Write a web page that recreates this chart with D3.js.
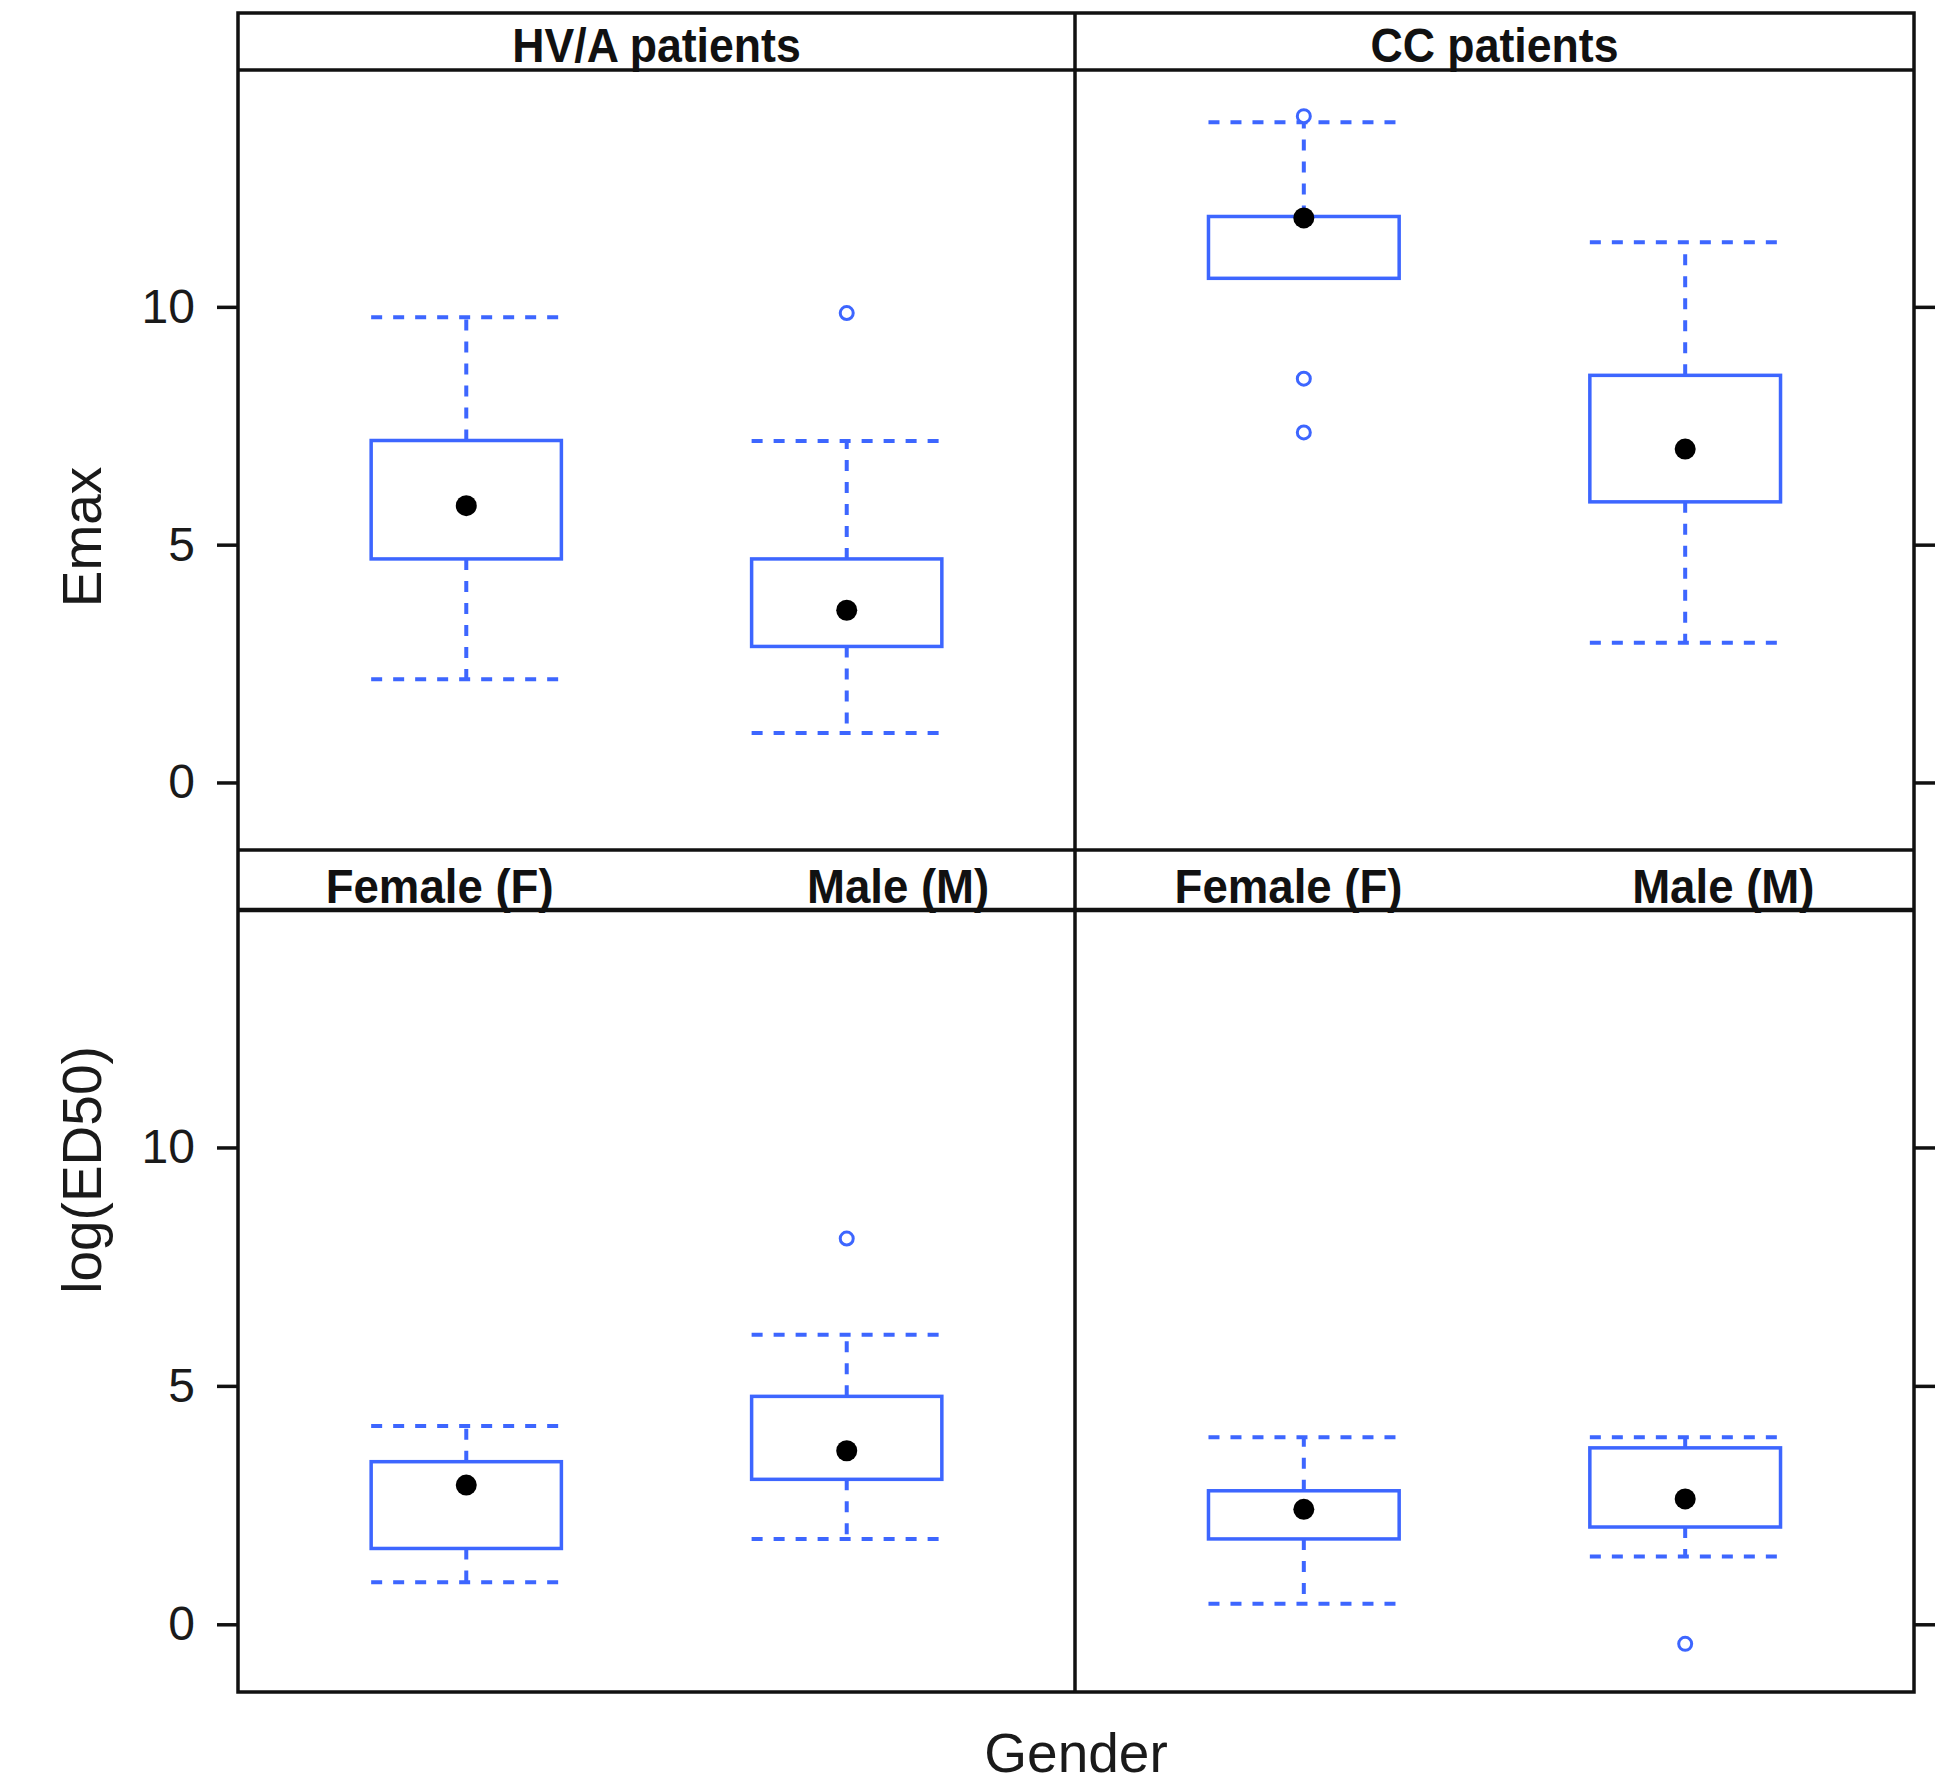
<!DOCTYPE html>
<html>
<head>
<meta charset="utf-8">
<script src="https://cdn.jsdelivr.net/npm/d3@7"></script>
<style>
    body { margin: 0; background: #fff; }
    svg { display: block; font-family: "Liberation Sans", Arial, sans-serif; }
</style>
</head>
<body>
<script>
'use strict';

/* Data: order is measure -> patient group -> gender */
const measures = ['Emax', 'log(ED50)'];
const groups = ['HV/A patients', 'CC patients'];
const genders = ['Female (F)', 'Male (M)'];

const lowerWhisker = [2.17, 1.04, 10.60, 2.94, 0.88, 1.79, 0.43, 1.42];
const lowerHinge   = [4.70, 2.86, 10.60, 5.90, 1.59, 3.04, 1.79, 2.04];
const medians      = [5.82, 3.62, 11.87, 7.01, 2.92, 3.64, 2.41, 2.63];
const upperHinge   = [7.19, 4.70, 11.90, 8.56, 3.41, 4.78, 2.80, 3.70];
const upperWhisker = [9.78, 7.18, 13.88, 11.36, 4.16, 6.07, 3.92, 3.92];
const outliers     = [[], [9.87], [14.01, 8.49, 7.36], [], [], [8.09], [], [-0.41]];

const yTicks = [0, 5, 10];
const yDomain = [-1.42, 14.98];
const xDomain = [0.4, 2.6];        // factor levels sit at 1 and 2
// where the gender labels are printed in the strip (x units), per group
const genderLabelAt = [[0.93, 2.135], [0.96, 2.10]];

/* Set up */
var width = 1937,
    height = 1784,
    colX = [238, 1075, 1914],
    rowTop = [70, 910],
    rowBottom = [850, 1692],
    outerTop = 13,
    blue = '#3d66ff',
    ink = '#111',
    boxHalf = 0.25;

var svg = d3.select('body').append('svg')
    .attr('width', width)
    .attr('height', height);

svg.append('rect')
    .attr('width', width)
    .attr('height', height)
    .attr('fill', '#fff');

var xs = groups.map(function(g, c) {
    return d3.scaleLinear().domain(xDomain).range([colX[c], colX[c + 1]]);
});
var ys = measures.map(function(m, r) {
    return d3.scaleLinear().domain(yDomain).range([rowBottom[r], rowTop[r]]);
});

/* Boxes */
var boxes = [];
measures.forEach(function(m, r) {
    groups.forEach(function(gr, c) {
        genders.forEach(function(gd, g) {
            var i = r * 4 + c * 2 + g;
            boxes.push({
                r: r, c: c, pos: g + 1,
                lw: lowerWhisker[i], q1: lowerHinge[i], med: medians[i],
                q3: upperHinge[i], uw: upperWhisker[i], out: outliers[i]
            });
        });
    });
});

var plot = svg.append('g');

var box = plot.selectAll('.box')
    .data(boxes)
    .enter().append('g')
    .attr('class', 'box');

// dashed whiskers + caps
box.each(function(d) {
    var g = d3.select(this),
        x = xs[d.c], y = ys[d.r],
        dash = '11,11';
    [[d.q3, d.uw], [d.q1, d.lw]].forEach(function(w) {
        if (w[0] === w[1]) return;
        g.append('line')
            .attr('x1', x(d.pos)).attr('x2', x(d.pos))
            .attr('y1', y(w[0])).attr('y2', y(w[1]))
            .attr('stroke', blue).attr('stroke-width', 4)
            .attr('stroke-dasharray', dash);
        g.append('line')
            .attr('x1', x(d.pos - boxHalf)).attr('x2', x(d.pos + boxHalf))
            .attr('y1', y(w[1])).attr('y2', y(w[1]))
            .attr('stroke', blue).attr('stroke-width', 4)
            .attr('stroke-dasharray', dash);
    });
});

box.append('rect')
    .attr('x', function(d) { return xs[d.c](d.pos - boxHalf); })
    .attr('y', function(d) { return ys[d.r](d.q3); })
    .attr('width', function(d) { return xs[d.c](d.pos + boxHalf) - xs[d.c](d.pos - boxHalf); })
    .attr('height', function(d) { return ys[d.r](d.q1) - ys[d.r](d.q3); })
    .attr('fill', 'none')
    .attr('stroke', blue)
    .attr('stroke-width', 3.5);

box.selectAll('.out')
    .data(function(d) { return d.out.map(function(v) { return { d: d, v: v }; }); })
    .enter().append('circle')
    .attr('class', 'out')
    .attr('cx', function(o) { return xs[o.d.c](o.d.pos); })
    .attr('cy', function(o) { return ys[o.d.r](o.v); })
    .attr('r', 6.5)
    .attr('fill', '#fff')
    .attr('stroke', blue)
    .attr('stroke-width', 3);

box.append('circle')
    .attr('cx', function(d) { return xs[d.c](d.pos); })
    .attr('cy', function(d) { return ys[d.r](d.med); })
    .attr('r', 10.5)
    .attr('fill', '#000');

/* Strips */
var frame = svg.append('g');

function stripText(x, y, size, sx, label) {
    frame.append('text')
        .attr('transform', 'translate(' + x + ',' + y + ') scale(' + sx + ',1)')
        .attr('text-anchor', 'middle')
        .attr('font-size', size)
        .attr('font-weight', 'bold')
        .attr('fill', ink)
        .text(label);
}

groups.forEach(function(gr, c) {
    stripText((colX[c] + colX[c + 1]) / 2, 62, 48, 0.93, gr);
    genders.forEach(function(gd, g) {
        stripText(xs[c](genderLabelAt[c][g]), 903, 48, 0.95, gd);
    });
});

/* Axes */
measures.forEach(function(m, r) {
    var left = frame.append('g')
        .attr('transform', 'translate(' + colX[0] + ',0)')
        .call(d3.axisLeft(ys[r]).tickValues(yTicks).tickSize(21).tickPadding(22));
    var right = frame.append('g')
        .attr('transform', 'translate(' + colX[2] + ',0)')
        .call(d3.axisRight(ys[r]).tickValues(yTicks).tickSize(21).tickFormat(''));
    [left, right].forEach(function(a) {
        a.select('.domain').remove();
        a.selectAll('line').attr('stroke', ink).attr('stroke-width', 3.5);
        a.selectAll('text')
            .attr('font-size', 48)
            .attr('font-family', '"Liberation Sans", Arial, sans-serif')
            .attr('fill', '#1a1a1a');
    });
});

/* Borders */
frame.append('rect')
    .attr('x', colX[0]).attr('y', outerTop)
    .attr('width', colX[2] - colX[0])
    .attr('height', rowBottom[1] - outerTop)
    .attr('fill', 'none')
    .attr('stroke', ink)
    .attr('stroke-width', 3.5);

[rowTop[0], rowBottom[0], rowTop[1]].forEach(function(yy, k) {
    frame.append('line')
        .attr('x1', colX[0]).attr('x2', colX[2])
        .attr('y1', yy).attr('y2', yy)
        .attr('stroke', ink)
        .attr('stroke-width', k === 2 ? 4.5 : 3.5);
});

frame.append('line')
    .attr('x1', colX[1]).attr('x2', colX[1])
    .attr('y1', outerTop).attr('y2', rowBottom[1])
    .attr('stroke', ink)
    .attr('stroke-width', 3.5);

/* Titles */
frame.append('text')
    .attr('x', (colX[0] + colX[2]) / 2)
    .attr('y', 1772)
    .attr('text-anchor', 'middle')
    .attr('font-size', 55)
    .attr('fill', '#1a1a1a')
    .text('Gender');

var yTitleAt = [537, 1170];
measures.forEach(function(m, r) {
    frame.append('text')
        .attr('transform', 'translate(101,' + yTitleAt[r] + ') rotate(-90)')
        .attr('text-anchor', 'middle')
        .attr('font-size', 55)
        .attr('fill', '#1a1a1a')
        .text(m);
});
</script>
</body>
</html>
